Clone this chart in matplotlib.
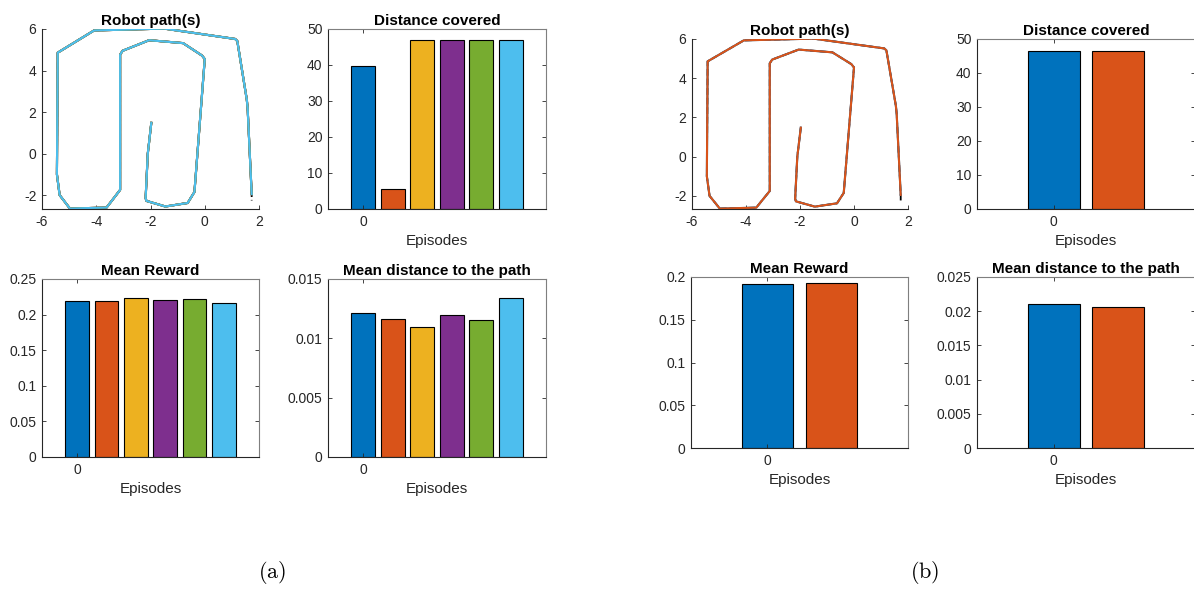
import numpy as np
import matplotlib.pyplot as plt

plt.rcParams['font.family'] = ['Liberation Sans', 'DejaVu Sans']
plt.rcParams['mathtext.fontset'] = 'cm'
plt.rcParams['axes.unicode_minus'] = False

# MATLAB default colour order
colors = ['#0072BD', '#D95319', '#EDB120', '#7E2F8E', '#77AC30', '#4DBEEE']
axcol = '#262626'

# reference path waypoints
path_x = [-1.97, -2.10, -2.18, -2.15, -1.45, -0.63, -0.38, 0.00, -0.10, -0.80,
          -2.05, -3.03, -3.12, -3.12, -3.62, -4.97, -5.35, -5.45, -5.42, -4.08,
          -1.50, 1.12, 1.20, 1.55, 1.58, 1.73]
path_y = [1.48, 0.00, -2.15, -2.28, -2.55, -2.38, -1.85, 4.55, 4.72, 5.32,
          5.46, 4.95, 4.76, -1.75, -2.60, -2.65, -2.00, -1.00, 4.86, 5.93,
          6.02, 5.52, 5.42, 2.60, 2.20, -1.95]
ref_end_y = -2.26

# (a) six episodes
dist_a = [39.6, 5.5, 46.9, 46.85, 46.85, 46.85]
reward_a = [0.2196, 0.2196, 0.2228, 0.2205, 0.2214, 0.2163]
mdist_a = [0.01217, 0.01161, 0.01096, 0.01194, 0.01158, 0.01337]

# (b) two episodes
dist_b = [46.6, 46.6]
reward_b = [0.1914, 0.1926]
mdist_b = [0.0210, 0.0206]

W, H = 1194, 592
fig = plt.figure(figsize=(W / 100, H / 100), dpi=100)


def add_ax(l, r, t, b):
    return fig.add_axes([l / W, 1 - b / H, (r - l) / W, (b - t) / H])


def style(ax, box=True):
    for s in ['left', 'bottom']:
        ax.spines[s].set_color(axcol)
        ax.spines[s].set_linewidth(0.8)
    for s in ['top', 'right']:
        ax.spines[s].set_visible(box)
        ax.spines[s].set_color('#7f7f7f')
        ax.spines[s].set_linewidth(0.8)
    ax.tick_params(direction='in', length=3, width=0.6, labelsize=10,
                   colors=axcol, top=box, right=box, pad=4)


def path_panel(ax, n):
    ax.plot(path_x + [path_x[-1]], path_y + [ref_end_y], '--', color='k', lw=1.3)
    for i in range(n):
        ax.plot(path_x, path_y, '-', color=colors[i], lw=1.5)
    ax.set_xlim(-6, 2)
    ax.set_ylim(-2.67, 6)
    ax.set_xticks([-6, -4, -2, 0, 2])
    ax.set_yticks([-2, 0, 2, 4, 6])
    ax.set_title('Robot path(s)', fontsize=11, fontweight='bold', pad=3)
    style(ax, box=False)


def bar_panel(ax, vals, title, ylim, yticks, yticklabels):
    n = len(vals)
    ax.bar(np.arange(n), vals, width=0.8, color=colors[:n], edgecolor='k', linewidth=0.8)
    ax.set_xlim(-1.19, n - 1 + 1.19)
    ax.set_ylim(*ylim)
    ax.set_xticks([0])
    ax.set_yticks(yticks)
    ax.set_yticklabels(yticklabels)
    ax.set_title(title, fontsize=11, fontweight='bold', pad=3)
    ax.set_xlabel('Episodes', fontsize=11, color=axcol, labelpad=4)
    style(ax, box=True)


# (a)
path_panel(add_ax(42, 259, 29, 209), 6)
bar_panel(add_ax(328, 546, 29, 209), dist_a, 'Distance covered', (0, 50),
          [0, 10, 20, 30, 40, 50], ['0', '10', '20', '30', '40', '50'])
bar_panel(add_ax(42, 259, 279, 457), reward_a, 'Mean Reward', (0, 0.25),
          [0, 0.05, 0.1, 0.15, 0.2, 0.25], ['0', '0.05', '0.1', '0.15', '0.2', '0.25'])
bar_panel(add_ax(328, 546, 279, 457), mdist_a, 'Mean distance to the path', (0, 0.015),
          [0, 0.005, 0.01, 0.015], ['0', '0.005', '0.01', '0.015'])

# (b)
path_panel(add_ax(692, 908, 39, 209), 2)
bar_panel(add_ax(977, 1195, 39, 209), dist_b, 'Distance covered', (0, 50),
          [0, 10, 20, 30, 40, 50], ['0', '10', '20', '30', '40', '50'])
bar_panel(add_ax(691, 908, 277, 448), reward_b, 'Mean Reward', (0, 0.2),
          [0, 0.05, 0.1, 0.15, 0.2], ['0', '0.05', '0.1', '0.15', '0.2'])
bar_panel(add_ax(977, 1195, 277, 448), mdist_b, 'Mean distance to the path', (0, 0.025),
          [0, 0.005, 0.01, 0.015, 0.02, 0.025],
          ['0', '0.005', '0.01', '0.015', '0.02', '0.025'])

fig.text(272 / W, 1 - 573 / H, r'$\mathrm{(a)}$', fontsize=16, ha='center', va='center')
fig.text(925 / W, 1 - 573 / H, r'$\mathrm{(b)}$', fontsize=16, ha='center', va='center')

fig.savefig('out.png', dpi=100)
